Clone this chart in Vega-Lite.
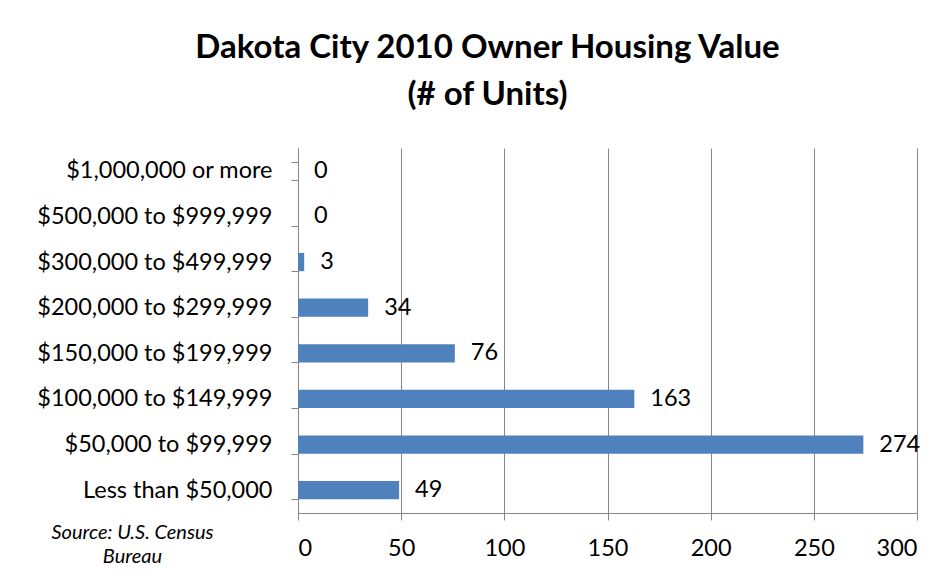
{
  "$schema": "https://vega.github.io/schema/vega-lite/v6.json",
  "width": 619,
  "height": 365,
  "autosize": {"type": "none"},
  "padding": {"left": 298, "top": 148, "right": 35, "bottom": 67},
  "background": "white",
  "title": {
    "text": ["Dakota City 2010 Owner Housing Value", "(# of Units)"],
    "font": "Lato",
    "fontSize": 33,
    "fontWeight": "bold",
    "color": "black",
    "anchor": "middle",
    "frame": "group",
    "dx": -120,
    "lineHeight": 47,
    "offset": 24
  },
  "data": {
    "values": [
      {"range": "$1,000,000 or more", "units": 0},
      {"range": "$500,000 to $999,999", "units": 0},
      {"range": "$300,000 to $499,999", "units": 3},
      {"range": "$200,000 to $299,999", "units": 34},
      {"range": "$150,000 to $199,999", "units": 76},
      {"range": "$100,000 to $149,999", "units": 163},
      {"range": "$50,000 to $99,999", "units": 274},
      {"range": "Less than $50,000", "units": 49}
    ]
  },
  "encoding": {
    "y": {
      "field": "range",
      "type": "nominal",
      "sort": null,
      "scale": {"paddingInner": 0.6, "paddingOuter": 0.3},
      "axis": {
        "title": null,
        "domainColor": "#868686",
        "tickColor": "#868686",
        "tickSize": 7,
        "tickBand": "extent",
        "labelPadding": 19,
        "labelLimit": 0,
        "labelFont": "Lato",
        "labelFontSize": 23.5,
        "labelColor": "black",
        "grid": false
      }
    },
    "x": {
      "field": "units",
      "type": "quantitative",
      "scale": {"domain": [0, 300], "nice": false},
      "axis": {
        "values": [0, 50, 100, 150, 200, 250, 300],
        "title": ["Source: U.S. Census", "Bureau"],
        "titleFont": "Lato",
        "titleFontSize": 20,
        "titleFontStyle": "italic",
        "titleFontWeight": "normal",
        "titleColor": "black",
        "titleAlign": "center",
        "titleBaseline": "top",
        "titleAnchor": "start",
        "titleX": -166,
        "titleY": 9,
        "titleLineHeight": 24,
        "domainColor": "#868686",
        "tickColor": "#868686",
        "tickSize": 7,
        "gridColor": "#868686",
        "gridWidth": 1,
        "labelFont": "Lato",
        "labelFontSize": 23.5,
        "labelColor": "black",
        "labelPadding": 16
      }
    }
  },
  "layer": [
    {"mark": {"type": "bar", "color": "#4F81BD"}},
    {
      "mark": {"type": "text", "align": "left", "baseline": "middle", "dx": 16, "font": "Lato", "fontSize": 23.5, "color": "black"},
      "encoding": {"text": {"field": "units", "type": "quantitative"}}
    }
  ],
  "config": {"view": {"stroke": null}}
}
